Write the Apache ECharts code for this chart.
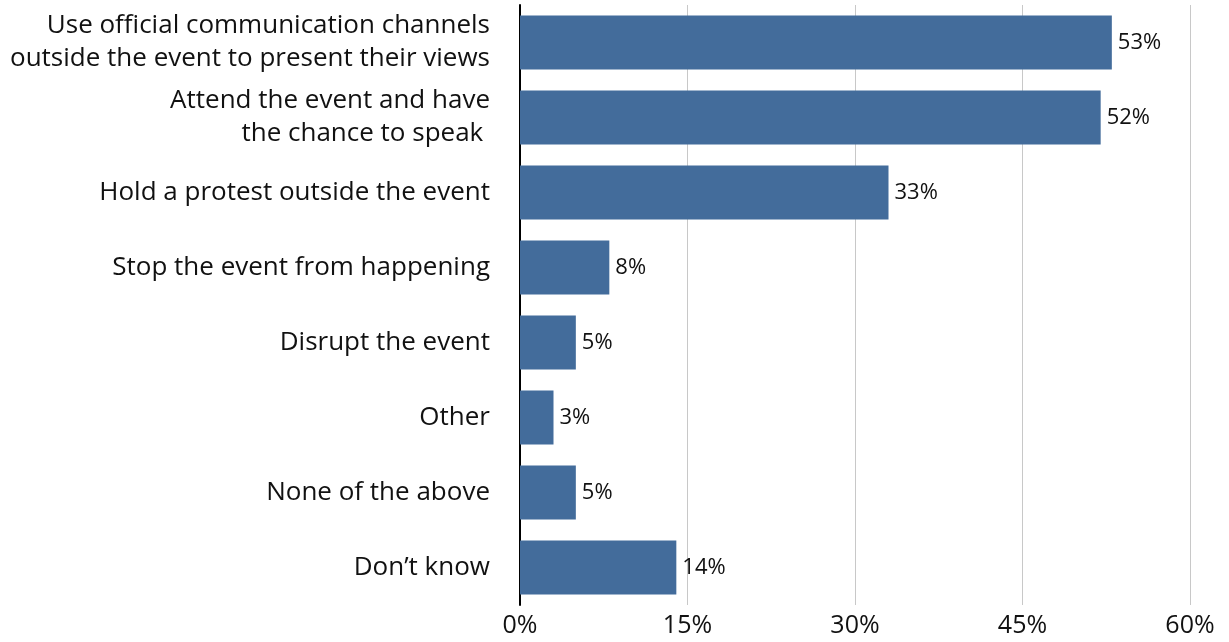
<!DOCTYPE html>
<html>
<head>
<meta charset="utf-8">
<script src="https://cdn.jsdelivr.net/npm/echarts@6/dist/echarts.min.js"></script>
<style>
  html, body { margin: 0; padding: 0; background: #ffffff; }
  #chart { width: 1229px; height: 642px; }
</style>
</head>
<body>
<div id="chart"></div>
<script>
// Responses, top to bottom
var categories = [
  'Use official communication channels\noutside the event to present their views',
  'Attend the event and have\nthe chance to speak ',
  'Hold a protest outside the event',
  'Stop the event from happening',
  'Disrupt the event',
  'Other',
  'None of the above',
  'Don\u2019t know'
];
// Share of respondents, percent
var shares = [53, 52, 33, 8, 5, 3, 5, 14];
// Horizontal axis ticks
var tickMin = 0;
var tickMax = 60;
var tickStep = 15;

var FONT = '"Open Sans", "Noto Sans", sans-serif';

var chart = echarts.init(document.getElementById('chart'), null, { renderer: 'canvas' });
chart.setOption({
  animation: false,
  backgroundColor: '#ffffff',
  grid: { left: 520, right: 39, top: 5, bottom: 37, containLabel: false },
  xAxis: {
    type: 'value',
    min: tickMin,
    max: tickMax,
    interval: tickStep,
    axisLine: { show: false },
    axisTick: { show: false },
    splitLine: { show: true, lineStyle: { color: '#c8c8c8', width: 1 } },
    axisLabel: {
      formatter: '{value}%',
      fontFamily: FONT,
      fontSize: 25,
      color: '#111111',
      margin: 8
    }
  },
  yAxis: {
    type: 'category',
    inverse: true,
    data: categories,
    axisLine: { show: true, lineStyle: { color: '#000000', width: 2 } },
    axisTick: { show: false },
    axisLabel: {
      fontFamily: FONT,
      fontSize: 26,
      lineHeight: 33,
      color: '#111111',
      margin: 30,
      align: 'right',
      padding: [0, 0, 6, 0]
    }
  },
  series: [{
    type: 'bar',
    data: shares,
    barCategoryGap: '28%',
    itemStyle: { color: '#436c9b' },
    label: {
      show: true,
      position: 'right',
      distance: 6,
      formatter: '{c}%',
      fontFamily: FONT,
      fontSize: 22,
      color: '#111111'
    }
  }]
});
</script>
</body>
</html>
